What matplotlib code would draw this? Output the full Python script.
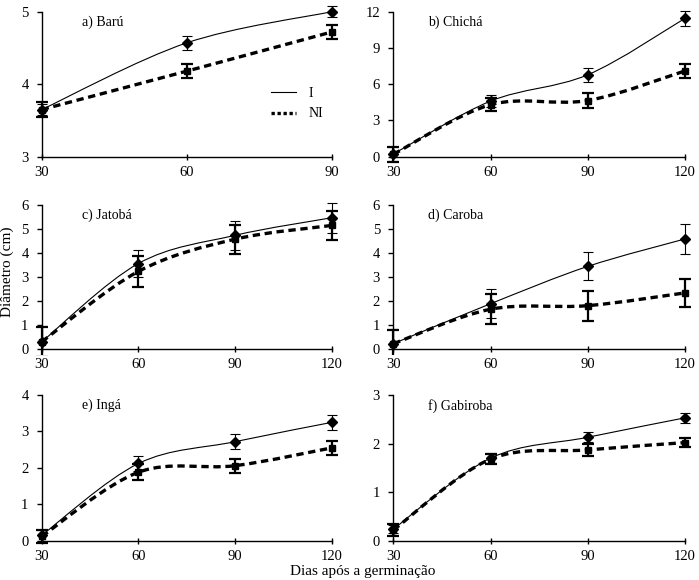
import numpy as np
import matplotlib
matplotlib.use("Agg")
import matplotlib.pyplot as plt
from matplotlib.path import Path
from matplotlib.patches import PathPatch, Rectangle
from matplotlib.lines import Line2D

plt.rcParams['font.family'] = ['Liberation Serif', 'DejaVu Serif']

# ---------------- data ----------------
titles = ["a) Barú", "b) Chichá", "c) Jatobá", "d) Caroba", "e) Ingá", "f) Gabiroba"]

days_a = [30, 60, 90]
days = [30, 60, 90, 120]

baru_I = [3.65, 4.57, 5.00]
baru_I_err = [0.08, 0.10, 0.08]
baru_NI = [3.65, 4.18, 4.72]
baru_NI_err = [0.10, 0.10, 0.10]

chicha_I = [0.22, 4.6, 6.78, 11.45]
chicha_I_err = [0.6, 0.5, 0.6, 0.6]
chicha_NI = [0.20, 4.3, 4.65, 7.10]
chicha_NI_err = [0.6, 0.55, 0.6, 0.6]

jatoba_I = [0.30, 3.55, 4.72, 5.45]
jatoba_I_err = [0.65, 0.58, 0.6, 0.62]
jatoba_NI = [0.30, 3.22, 4.56, 5.13]
jatoba_NI_err = [0.62, 0.64, 0.6, 0.6]

caroba_I = [0.22, 1.88, 3.43, 4.57]
caroba_I_err = [0.6, 0.6, 0.58, 0.62]
caroba_NI = [0.22, 1.65, 1.80, 2.33]
caroba_NI_err = [0.58, 0.62, 0.62, 0.58]

inga_I = [0.15, 2.12, 2.72, 3.25]
inga_I_err = [0.15, 0.2, 0.2, 0.21]
inga_NI = [0.12, 1.88, 2.06, 2.55]
inga_NI_err = [0.18, 0.22, 0.19, 0.2]

gabiroba_I = [0.24, 1.70, 2.13, 2.53]
gabiroba_I_err = [0.08, 0.10, 0.10, 0.10]
gabiroba_NI = [0.22, 1.68, 1.87, 2.02]
gabiroba_NI_err = [0.12, 0.10, 0.12, 0.10]

series = [
    (days_a, baru_I, baru_I_err, baru_NI, baru_NI_err),
    (days, chicha_I, chicha_I_err, chicha_NI, chicha_NI_err),
    (days, jatoba_I, jatoba_I_err, jatoba_NI, jatoba_NI_err),
    (days, caroba_I, caroba_I_err, caroba_NI, caroba_NI_err),
    (days, inga_I, inga_I_err, inga_NI, inga_NI_err),
    (days, gabiroba_I, gabiroba_I_err, gabiroba_NI, gabiroba_NI_err),
]
ylims = [(3, 5), (0, 12), (0, 6), (0, 6), (0, 4), (0, 3)]
yticks = [[3, 4, 5], [0, 3, 6, 9, 12], [0, 1, 2, 3, 4, 5, 6],
          [0, 1, 2, 3, 4, 5, 6], [0, 1, 2, 3, 4], [0, 1, 2, 3]]
xlims = [(30, 90), (30, 120), (30, 120), (30, 120), (30, 120), (30, 120)]
xticks = [[30, 60, 90], days, days, days, days, days]

legend_labels = ["I", "NI"]
xlabel = "Dias após a germinação"
ylabel = "Diâmetro (cm)"


def smooth_path(x, y):
    """Excel-like smoothed line (cubic Bezier through the data points)."""
    x = np.asarray(x, float)
    y = np.asarray(y, float)
    n = len(x)
    verts = [(x[0], y[0])]
    codes = [Path.MOVETO]
    for i in range(n - 1):
        i0 = max(i - 1, 0)
        i3 = min(i + 2, n - 1)
        c1 = (x[i] + (x[i + 1] - x[i0]) / 6, y[i] + (y[i + 1] - y[i0]) / 6)
        c2 = (x[i + 1] - (x[i3] - x[i]) / 6, y[i + 1] - (y[i3] - y[i]) / 6)
        verts += [c1, c2, (x[i + 1], y[i + 1])]
        codes += [Path.CURVE4] * 3
    return Path(verts, codes)


W, H = 699, 580
fig = plt.figure(figsize=(W / 100, H / 100), dpi=100)

# axes boxes in pixels: left, right, top, bottom
boxes = [
    (41.7, 331.7, 11.7, 156.7),
    (393.3, 685.0, 11.7, 156.7),
    (41.7, 331.7, 204.5, 349.0),
    (393.3, 685.0, 204.5, 349.0),
    (41.7, 332.0, 395.0, 540.7),
    (393.3, 685.0, 395.0, 540.7),
]
title_x = [0.14, 0.12, 0.14, 0.12, 0.14, 0.12]

fs = 10.5
for k, (l, r, t, b) in enumerate(boxes):
    ax = fig.add_axes([l / W, 1 - b / H, (r - l) / W, (b - t) / H])
    xd, yI, eI, yN, eN = series[k]

    clip_rect = Rectangle((-0.05, -0.04), 1.1, 1.12, transform=ax.transAxes,
                          facecolor='none', edgecolor='none')

    c1 = ax.errorbar(xd, yI, yerr=eI, fmt='none', ecolor='black', elinewidth=0.8,
                     capsize=3.3, capthick=0.8, zorder=3)
    c2 = ax.errorbar(xd, yN, yerr=eN, fmt='none', ecolor='black', elinewidth=1.6,
                     capsize=4.2, capthick=1.6, zorder=3)
    for cont in (c1, c2):
        for art in list(cont.lines[1]) + list(cont.lines[2]):
            art.set_clip_path(clip_rect)

    ax.add_patch(PathPatch(smooth_path(xd, yI), facecolor='none', edgecolor='black',
                           lw=0.8, zorder=4, clip_on=False))
    ax.add_patch(PathPatch(smooth_path(xd, yN), facecolor='none', edgecolor='black',
                           lw=2.4, linestyle=(0, (2.2, 1.4)), zorder=4, clip_on=False))
    ax.plot(xd, yI, linestyle='none', marker='D', ms=5, color='black', zorder=5,
            clip_on=False)
    ax.plot(xd, yN, linestyle='none', marker='s', ms=4.8, color='black', zorder=5,
            clip_on=False)

    ax.set_xlim(*xlims[k])
    ax.set_ylim(*ylims[k])
    ax.set_xticks(xticks[k])
    ax.set_yticks(yticks[k])
    for s in ['top', 'right']:
        ax.spines[s].set_visible(False)
    for s in ['left', 'bottom']:
        ax.spines[s].set_linewidth(1.0)
    ax.tick_params(axis='y', direction='out', length=3.5, width=1.0,
                   labelsize=fs, pad=6)
    ax.tick_params(axis='x', direction='inout', length=5, width=1.0,
                   labelsize=fs, pad=4)
    ax.text(title_x[k], 0.975, titles[k], transform=ax.transAxes,
            fontsize=10, ha='left', va='top')

    if k == 0:
        handles = [Line2D([], [], color='black', lw=0.8),
                   Line2D([], [], color='black', lw=2.4, linestyle=(0, (1.0, 0.8)))]
        ax.legend(handles, legend_labels, loc='upper left',
                  bbox_to_anchor=(0.77, 0.52), frameon=False, fontsize=10,
                  handlelength=1.8, handletextpad=0.9, labelspacing=0.55,
                  borderaxespad=0)

fig.text(1 / W, 1 - 272 / H, ylabel, rotation=90, ha='left', va='center',
         fontsize=11)
fig.text(363 / W, 1 - 565 / H, xlabel, ha='center', va='top', fontsize=11)

fig.savefig('out.png', dpi=100)
